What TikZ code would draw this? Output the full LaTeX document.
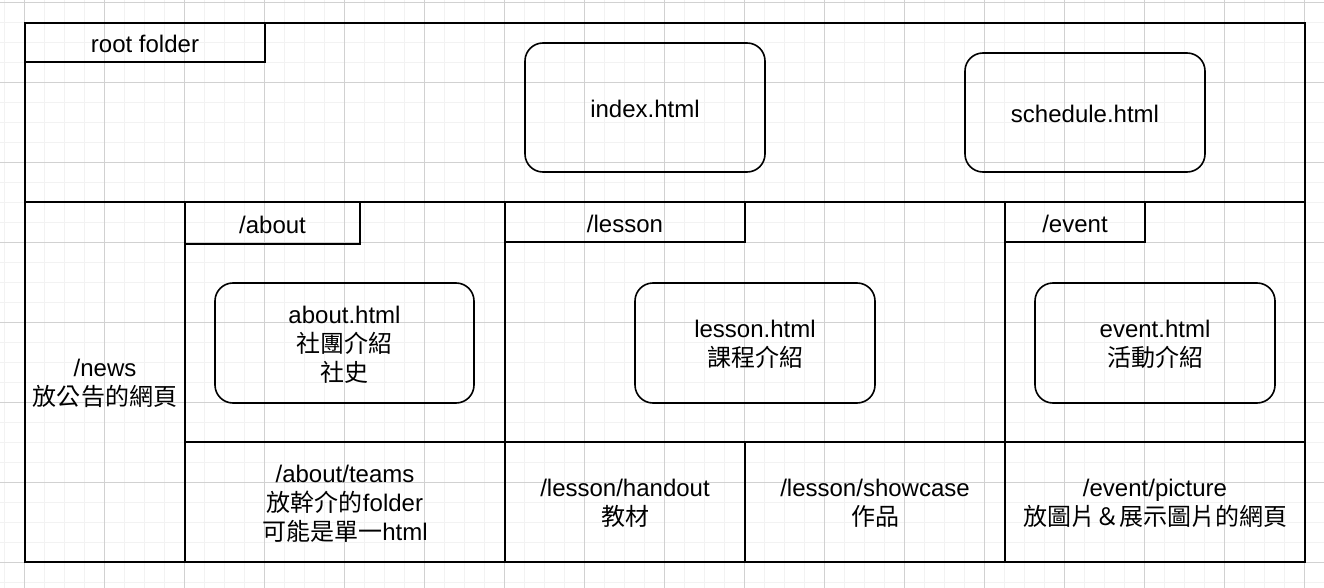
\documentclass[tikz,border=0pt]{standalone}
\usepackage{fontspec}
\setmainfont{Liberation Sans}
\newfontfamily\cjk{Noto Sans CJK TC}
\newcommand\zh[1]{{\cjk #1}}
\begin{document}
\begin{tikzpicture}[x=1bp,y=-1bp,
  every node/.style={inner sep=0pt, align=center, font=\fontsize{24bp}{28.8bp}\selectfont},
  cell/.style={draw=black, line width=2bp, rectangle},
  tab/.style={draw=black, line width=2bp, rectangle},
  page/.style={draw=black, line width=1.6bp, rectangle, rounded corners=18bp},
  txt/.style={yshift=-1.5bp},
  minorgrid/.style={draw=black!5, line width=1bp},
  majorgrid/.style={draw=black!18, line width=1bp}]
\useasboundingbox (0,0) rectangle (1324,588);
\fill[white] (0,0) rectangle (1324,588);
% grid
\foreach \x in {4.5,24.5,...,1324} \draw[minorgrid] (\x,0) -- (\x,588);
\foreach \y in {2.5,22.5,...,588} \draw[minorgrid] (0,\y) -- (1324,\y);
\foreach \x in {24.5,104.5,...,1324} \draw[majorgrid] (\x,0) -- (\x,588);
\foreach \y in {2.5,82.5,...,588} \draw[majorgrid] (0,\y) -- (1324,\y);
% top area
\node[cell, minimum width=1280bp, minimum height=179bp] (top) at (665,112.5) {};
\node[tab, minimum width=240bp, minimum height=39bp] (roottab) at (145,42.5) {};
\node[txt] (roottxt) at (roottab.center) {root folder};
\node[page, minimum width=240bp, minimum height=129bp] (index) at (645,107.5) {};
\node[txt] (indextxt) at (index.center) {index.html};
\node[page, minimum width=240bp, minimum height=119bp] (schedule) at (1085,112.5) {};
\node[txt] (scheduletxt) at (schedule.center) {schedule.html};
% second row
\node[cell, minimum width=160bp, minimum height=360bp] (news) at (105,382) {};
\node[txt] (newstxt) at (news.center) {/news\\\zh{放公告的網頁}};
\node[cell, minimum width=320bp, minimum height=240bp] (about) at (345,322) {};
\node[tab, minimum width=175bp, minimum height=42bp] (abouttab) at (272.5,223) {};
\node[txt] (abouttabtxt) at (abouttab.center) {/about};
\node[page, minimum width=259bp, minimum height=120bp] (abouthtml) at (344.5,343) {};
\node[txt] (abouthtmltxt) at (abouthtml.center) {about.html\\\zh{社團介紹}\\\zh{社史}};
\node[cell, minimum width=500bp, minimum height=240bp] (lesson) at (755,322) {};
\node[tab, minimum width=240bp, minimum height=40bp] (lessontab) at (625,222) {};
\node[txt] (lessontabtxt) at (lessontab.center) {/lesson};
\node[page, minimum width=240bp, minimum height=120bp] (lessonhtml) at (755,343) {};
\node[txt] (lessonhtmltxt) at (lessonhtml.center) {lesson.html\\\zh{課程介紹}};
\node[cell, minimum width=300bp, minimum height=240bp] (event) at (1155,322) {};
\node[tab, minimum width=140bp, minimum height=40bp] (eventtab) at (1075,222) {};
\node[txt] (eventtabtxt) at (eventtab.center) {/event};
\node[page, minimum width=240bp, minimum height=120bp] (eventhtml) at (1155,343) {};
\node[txt] (eventhtmltxt) at (eventhtml.center) {event.html\\\zh{活動介紹}};
% bottom row
\node[cell, minimum width=320bp, minimum height=120bp] (teams) at (345,502) {};
\node[txt] (teamstxt) at (teams.center) {/about/teams\\\zh{放幹介的}folder\\\zh{可能是單一}html};
\node[cell, minimum width=240bp, minimum height=120bp] (handout) at (625,502) {};
\node[txt] (handouttxt) at (handout.center) {/lesson/handout\\\zh{教材}};
\node[cell, minimum width=260bp, minimum height=120bp] (showcase) at (875,502) {};
\node[txt] (showcasetxt) at (showcase.center) {/lesson/showcase\\\zh{作品}};
\node[cell, minimum width=300bp, minimum height=120bp] (picture) at (1155,502) {};
\node[txt] (picturetxt) at (picture.center) {/event/picture\\\zh{放圖片＆展示圖片的網頁}};
\end{tikzpicture}
\end{document}
